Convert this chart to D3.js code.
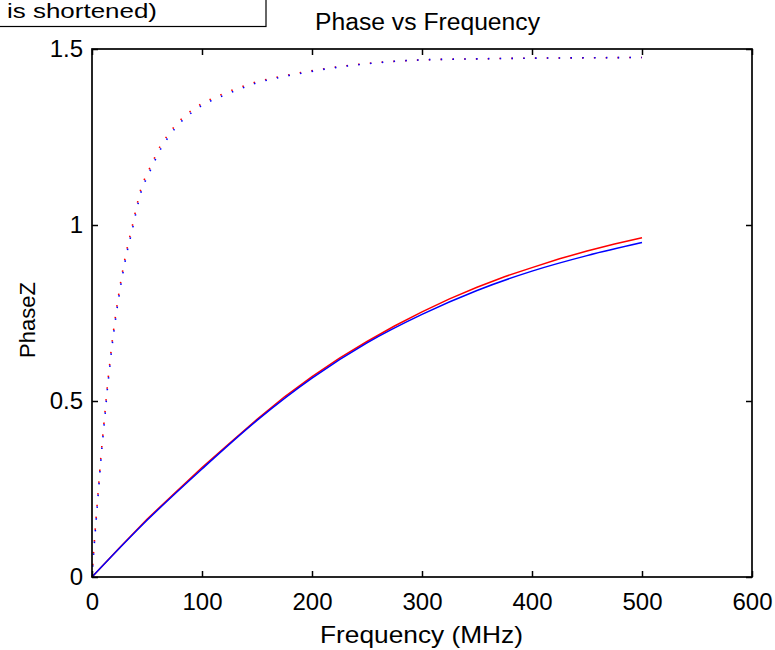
<!DOCTYPE html>
<html>
<head>
<meta charset="utf-8">
<script src="https://cdn.jsdelivr.net/npm/d3@7"></script>
<style>
  body { margin: 0; background: #fff; }
  svg { font-family: "Liberation Sans", Arial, sans-serif; }
</style>
</head>
<body>
<div id="chart"></div>
<script>
// data
const blueFreq = [0, 50, 100, 150, 200, 250, 300, 350, 400, 450, 500];
const solidBlue = [0, 0.161, 0.307, 0.445, 0.565, 0.665, 0.746, 0.814, 0.869, 0.913, 0.950];
const redFreq = [0, 25, 50, 75, 100, 125, 150, 175, 200, 225, 250, 275, 300, 325, 350, 375, 400, 425, 450, 475, 500];
const solidRed  = [0, 0.083, 0.164, 0.238, 0.311, 0.380, 0.448, 0.512, 0.569, 0.622, 0.669, 0.713, 0.753, 0.790, 0.823, 0.853, 0.879, 0.904, 0.926, 0.946, 0.964];

const dotFreq = [0, 1, 2, 4, 6, 8, 10, 12, 14, 16, 18, 20, 24, 28, 32, 36, 40, 45, 50, 55, 60, 70, 80, 90, 100, 115, 130, 150, 170, 190, 210, 230, 250, 275, 300, 350, 400, 450, 500];
const dotBlue = [0, 0.045, 0.090, 0.170, 0.250, 0.330, 0.400, 0.465, 0.535, 0.593, 0.650, 0.700, 0.787, 0.862, 0.925, 0.978, 1.035, 1.098, 1.135, 1.168, 1.202, 1.252, 1.290, 1.318, 1.340, 1.362, 1.381, 1.404, 1.419, 1.431, 1.442, 1.451, 1.458, 1.465, 1.469, 1.472, 1.474, 1.475, 1.476];
const dotRed  = [0, 0.048, 0.095, 0.178, 0.258, 0.338, 0.408, 0.475, 0.543, 0.602, 0.660, 0.710, 0.797, 0.872, 0.935, 0.988, 1.045, 1.108, 1.145, 1.178, 1.212, 1.260, 1.297, 1.324, 1.345, 1.367, 1.386, 1.407, 1.421, 1.433, 1.443, 1.452, 1.459, 1.465, 1.469, 1.472, 1.474, 1.475, 1.476];

const xTicks = [0, 100, 200, 300, 400, 500, 600];
const yTicks = [0, 0.5, 1, 1.5];

const svgWidth = 775;
const svgHeight = 650;
const margin = { top: 49, right: 23, bottom: 73, left: 92 };
const width = svgWidth - margin.left - margin.right;
const height = svgHeight - margin.top - margin.bottom;

const svg = d3.select("#chart")
  .append("svg")
  .attr("width", svgWidth)
  .attr("height", svgHeight);

const chartGroup = svg.append("g")
  .attr("transform", `translate(${margin.left}, ${margin.top})`);

const x = d3.scaleLinear().domain([0, 600]).range([0, width]);
const y = d3.scaleLinear().domain([0, 1.5]).range([height, 0]);

const line = d3.line()
  .x(d => x(d[0]))
  .y(d => y(d[1]))
  .curve(d3.curveMonotoneX);

const jaggedLine = d3.line()
  .x(d => x(d[0]))
  .y(d => y(d[1]));

function series(freq, vals) {
  return freq.map((f, i) => [f, vals[i]]);
}

// dotted curves
chartGroup.append("path")
  .attr("d", line(series(dotFreq, dotRed)))
  .attr("fill", "none")
  .attr("stroke", "#ff0000")
  .attr("stroke-width", 1.6)
  .attr("stroke-dasharray", "1.5,10.3");

chartGroup.append("path")
  .attr("d", line(series(dotFreq, dotBlue)))
  .attr("fill", "none")
  .attr("stroke", "#0000ff")
  .attr("stroke-width", 1.6)
  .attr("stroke-dasharray", "1.5,10.3")
  .attr("stroke-dashoffset", 1.5);

// solid curves
chartGroup.append("path")
  .attr("d", jaggedLine(series(redFreq, solidRed)))
  .attr("fill", "none")
  .attr("stroke", "#ff0000")
  .attr("stroke-width", 1.5);

chartGroup.append("path")
  .attr("d", line(series(blueFreq, solidBlue)))
  .attr("fill", "none")
  .attr("stroke", "#0000ff")
  .attr("stroke-width", 1.5);

// axes, matlab style: ticks inward on all four sides
const tickLen = 6;
const fontSize = 24;

chartGroup.append("g")
  .attr("transform", `translate(0, ${height})`)
  .call(d3.axisBottom(x).tickValues(xTicks).tickSize(-tickLen).tickPadding(16).tickFormat(d3.format("d")))
  .call(g => g.select(".domain").remove())
  .call(g => g.selectAll("text").attr("font-size", fontSize).attr("font-family", "Liberation Sans, Arial, sans-serif").attr("fill", "#000"));

chartGroup.append("g")
  .call(d3.axisTop(x).tickValues(xTicks).tickSize(-tickLen).tickFormat(""))
  .call(g => g.select(".domain").remove());

chartGroup.append("g")
  .call(d3.axisLeft(y).tickValues(yTicks).tickSize(-tickLen).tickPadding(9).tickFormat(d => d === 0 ? "0" : d === 1 ? "1" : d3.format(".1f")(d)))
  .call(g => g.select(".domain").remove())
  .call(g => g.selectAll("text").attr("font-size", fontSize).attr("font-family", "Liberation Sans, Arial, sans-serif").attr("fill", "#000"));

chartGroup.append("g")
  .attr("transform", `translate(${width}, 0)`)
  .call(d3.axisRight(y).tickValues(yTicks).tickSize(-tickLen).tickFormat(""))
  .call(g => g.select(".domain").remove());

chartGroup.selectAll(".tick line")
  .attr("stroke", "#000")
  .attr("stroke-width", 1.5);

// box
chartGroup.append("rect")
  .attr("x", 0)
  .attr("y", 0)
  .attr("width", width)
  .attr("height", height)
  .attr("fill", "none")
  .attr("stroke", "#000")
  .attr("stroke-width", 1.7);

// labels
svg.append("text")
  .attr("x", 315)
  .attr("y", 30)
  .attr("font-size", 23)
  .attr("textLength", 225)
  .attr("lengthAdjust", "spacingAndGlyphs")
  .text("Phase vs Frequency");

svg.append("text")
  .attr("x", 320)
  .attr("y", 643)
  .attr("font-size", 24)
  .attr("textLength", 203)
  .attr("lengthAdjust", "spacingAndGlyphs")
  .text("Frequency (MHz)");

svg.append("text")
  .attr("transform", `translate(35, ${margin.top + height / 2 + 7}) rotate(-90)`)
  .attr("text-anchor", "middle")
  .attr("font-size", 22)
  .text("PhaseZ");

// clipped legend box in the corner
svg.append("rect")
  .attr("x", -2)
  .attr("y", -2)
  .attr("width", 268)
  .attr("height", 28.5)
  .attr("fill", "#fff")
  .attr("stroke", "#000")
  .attr("stroke-width", 1.2);

svg.append("text")
  .attr("x", 7)
  .attr("y", 18)
  .attr("font-size", 21)
  .attr("textLength", 150)
  .attr("lengthAdjust", "spacingAndGlyphs")
  .text("is shortened)");
</script>
</body>
</html>
